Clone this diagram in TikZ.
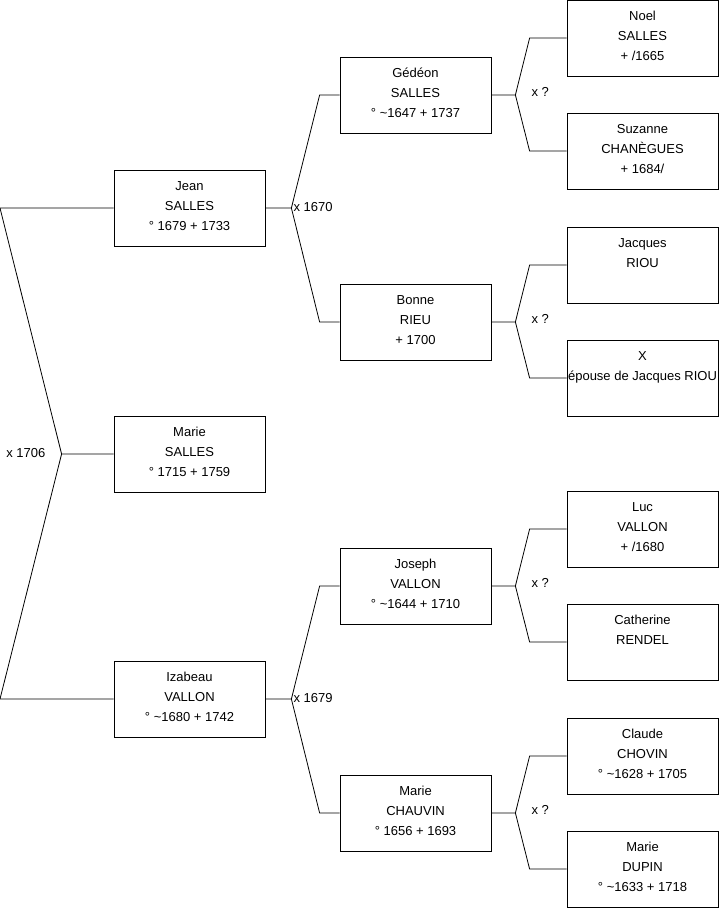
\documentclass[tikz,border=0pt]{standalone}
\usepackage{fontspec}
\setmainfont{Liberation Sans}
\usetikzlibrary{positioning,calc}
\tikzset{
  pBox/.style={rectangle,draw,line width=0.8pt,
               minimum width=151pt,minimum height=76pt,
               inner sep=0pt,align=center,
               font=\fontsize{13}{20}\selectfont,
               execute at end node={\rule[-4pt]{0pt}{4pt}}},
  lnk/.style={line width=0.8pt},
  mLbl/.style={inner sep=0pt,font=\fontsize{13}{15}\selectfont}
}
\begin{document}
\begin{tikzpicture}[x=1pt,y=-1pt]
  \useasboundingbox (0,0) rectangle (719,908);

  % Generation 1
  \node[pBox] (jean) at (189.5,208) {Jean\\SALLES\\° 1679 + 1733};
  \node[pBox] (marie) at (189.5,454) {Marie\\SALLES\\° 1715 + 1759};
  \node[pBox] (izabeau) at (189.5,699) {Izabeau\\VALLON\\° \textasciitilde1680 + 1742};

  % Generation 2
  \node[pBox] (gedeon) at (415.5,95) {Gédéon\\SALLES\\° \textasciitilde1647 + 1737};
  \node[pBox] (bonne) at (415.5,322) {Bonne\\RIEU\\+ 1700};
  \node[pBox] (joseph) at (415.5,586) {Joseph\\VALLON\\° \textasciitilde1644 + 1710};
  \node[pBox] (chauvin) at (415.5,813) {Marie\\CHAUVIN\\° 1656 + 1693};

  % Generation 3
  \node[pBox] (noel) at (642.5,38) {Noel\\SALLES\\+ /1665};
  \node[pBox] (suzanne) at (642.5,151) {Suzanne\\CHANÈGUES\\+ 1684/};
  \node[pBox] (jacques) at (642.5,265) {Jacques\\RIOU\\\mbox{}};
  \node[pBox] (epouse) at (642.5,378) {X\\épouse de Jacques RIOU\\\mbox{}};
  \node[pBox] (luc) at (642.5,529) {Luc\\VALLON\\+ /1680};
  \node[pBox] (catherine) at (642.5,642) {Catherine\\RENDEL\\\mbox{}};
  \node[pBox] (claude) at (642.5,756) {Claude\\CHOVIN\\° \textasciitilde1628 + 1705};
  \node[pBox] (dupin) at (642.5,869) {Marie\\DUPIN\\° \textasciitilde1633 + 1718};

  % Parents of Marie
  \coordinate (m-v) at ($(marie.west)+(-52,0)$);
  \coordinate (m-a) at (jean.west -| 0,0);
  \coordinate (m-b) at (izabeau.west -| 0,0);
  \draw[lnk] (marie.west) -- (m-v) -- (m-a) -- (jean.west);
  \draw[lnk] (m-v) -- (m-b) -- (izabeau.west);
  \node[mLbl,anchor=east] (m-x) at ($(m-v)+(-16,-1)$) {x 1706};

  % Parents of Jean and Izabeau
  \foreach \p/\a/\b/\y in {jean/gedeon/bonne/1670, izabeau/joseph/chauvin/1679}{
    \draw[lnk] (\p.east) -- ++(26,0) coordinate (\p-v)
      -- ($(\a.west)+(-20,0)$) -- (\a.west);
    \draw[lnk] (\p-v) -- ($(\b.west)+(-20,0)$) -- (\b.west);
    \node[mLbl,anchor=west] (\p-x) at ($(\p-v)+(2,-1)$) {x \y};
  }

  % Parents of generation 2
  \foreach \p/\a/\b in {gedeon/noel/suzanne, bonne/jacques/epouse,
                        joseph/luc/catherine, chauvin/claude/dupin}{
    \draw[lnk] (\p.east) -- ++(24,0) coordinate (\p-v)
      -- ($(\a.west)+(-37,0)$) -- (\a.west);
    \draw[lnk] (\p-v) -- ($(\b.west)+(-37,0)$) -- (\b.west);
    \node[mLbl,anchor=west] (\p-x) at ($(\p-v)+(16,-3)$) {x ?};
  }
\end{tikzpicture}
\end{document}
